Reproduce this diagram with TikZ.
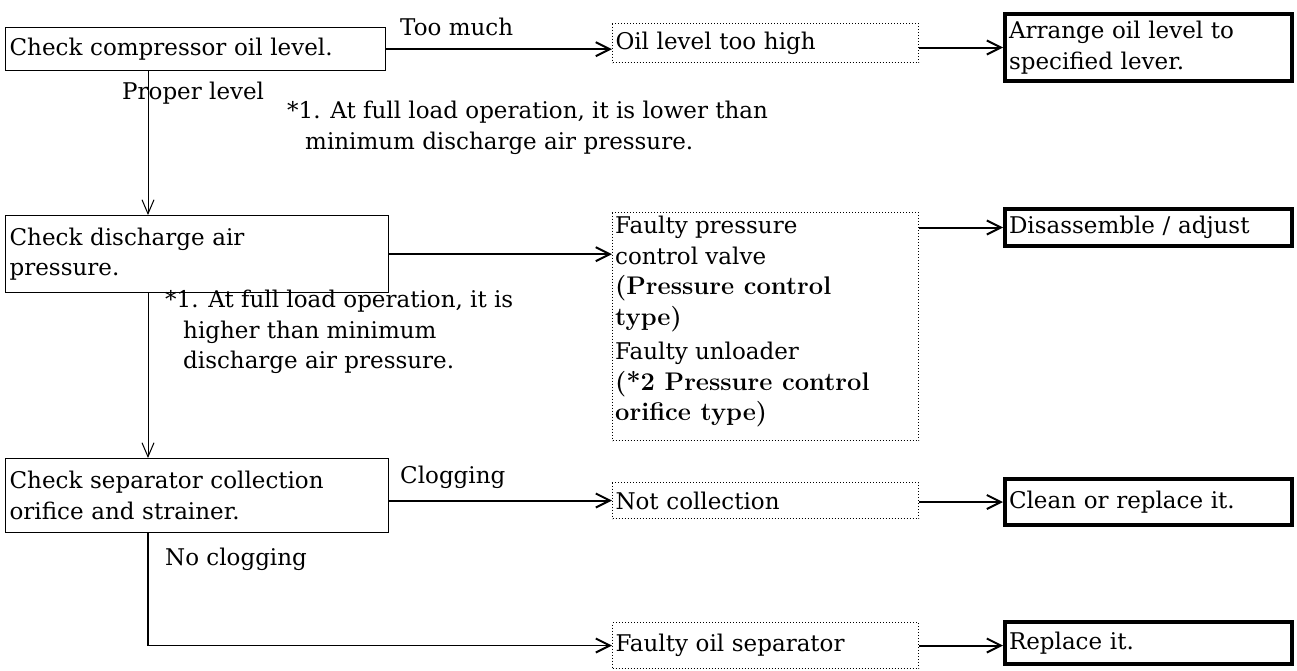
\documentclass[tikz,border=0pt]{standalone}
\usepackage{fontspec}
\newfontfamily\dvs{DejaVu Serif}
\usetikzlibrary{arrows.meta,calc}
\newcommand{\bx}[1]{{\rmfamily\bfseries\fontsize{25.5}{31}\selectfont #1}}
\begin{document}
\begin{tikzpicture}[x=1pt,y=-1pt,
  every node/.style={font=\dvs\fontsize{23}{30.5}\selectfont},
  procbox/.style={draw,line width=1.3pt,inner xsep=4pt,inner ysep=0pt,align=left,anchor=north west},
  causebox/.style={draw,dotted,line width=1pt,inner xsep=3pt,inner ysep=0pt,align=left,anchor=north west},
  actbox/.style={draw,line width=4pt,inner xsep=4pt,inner ysep=0pt,align=left,anchor=north west},
  lbl/.style={inner sep=0pt,anchor=north west,align=left},
  harr/.style={line width=2pt,-{Straight Barb[length=14pt,width=14pt,line width=2pt]}},
  varr/.style={line width=1pt,-{Straight Barb[length=14pt,width=12pt,line width=1pt]}}
]
\useasboundingbox (0,0) rectangle (1297,670);
% column 1
\node[procbox,minimum width=380pt,minimum height=43pt,text width=372pt] (A) at (5,27) {Check compressor oil level.};
\node[procbox,minimum width=383pt,minimum height=77pt,text width=375pt] (D) at (5,215) {Check discharge air\\pressure.};
\node[procbox,minimum width=383pt,minimum height=74pt,text width=375pt] (G) at (5,458) {Check separator collection\\orifice and strainer.};
% column 2
\node[causebox,minimum width=306pt,minimum height=39pt,text width=300pt] (B) at (612,23) {Oil level too high};
\node[causebox,minimum width=306pt,minimum height=228pt,text width=300pt] (E) at (612,212) {};
\node[lbl] (E1) at (615,216) {Faulty pressure\\control valve\\\bx{(Pressure control}\\\bx{type)}};
\node[lbl] (E2) at (615,342) {Faulty unloader\\\bx{(*2 Pressure control}\\\bx{orifice type)}};
\node[causebox,minimum width=306pt,minimum height=36pt,text width=300pt] (H) at (612,482) {Not collection};
\node[causebox,minimum width=306pt,minimum height=46pt,text width=300pt] (J) at (612,622) {Faulty oil separator};
% column 3
\node[actbox,minimum width=287pt,minimum height=67pt,text width=279pt] (C) at (1003,12) {Arrange oil level to\\specified lever.};
\node[actbox,minimum width=287pt,minimum height=37pt,text width=279pt] (F) at (1003,207) {Disassemble / adjust};
\node[actbox,minimum width=287pt,minimum height=46pt,text width=279pt] (I) at (1003,477) {Clean or replace it.};
\node[actbox,minimum width=287pt,minimum height=42pt,text width=279pt] (K) at (1003,620) {Replace it.};
% labels
\node[lbl] (l1) at (400,18) {Too much};
\node[lbl] (l2) at (122,82) {Proper level};
\node[lbl] (l3) at (287,101) {*1. At full load operation, it is lower than\\\hspace*{18pt}minimum discharge air pressure.};
\node[lbl] (l4) at (165,290) {*1. At full load operation, it is\\\hspace*{18pt}higher than minimum\\\hspace*{18pt}discharge air pressure.};
\node[lbl] (l5) at (400,466) {Clogging};
\node[lbl] (l6) at (165,548) {No clogging};
% connectors
\draw[harr] (A.east) -- (A.east -| B.west);
\draw[harr] (C.west -| B.east) -- (C.west);
\draw[harr] (D.east) -- (D.east -| E.west);
\draw[harr] (F.west -| E.east) -- (F.west);
\draw[harr] (H.west -| G.east) -- (H.west);
\draw[harr] (I.west -| H.east) -- (I.west);
\draw[harr] (J.east) -- (J.east -| K.west);
\path (A.south west) ++(143,0) coordinate (a1);
\path (D.south west) ++(143,0) coordinate (a2);
\path (G.south west) ++(143,0) coordinate (a3);
\draw[varr] (a1) -- (a1 |- D.north);
\draw[varr] (a2) -- (a2 |- G.north);
\draw[line width=1.3pt,-{Straight Barb[length=14pt,width=14pt,line width=2pt]}] (a3) -- (a3 |- J.west) -- (J.west);
\end{tikzpicture}
\end{document}
